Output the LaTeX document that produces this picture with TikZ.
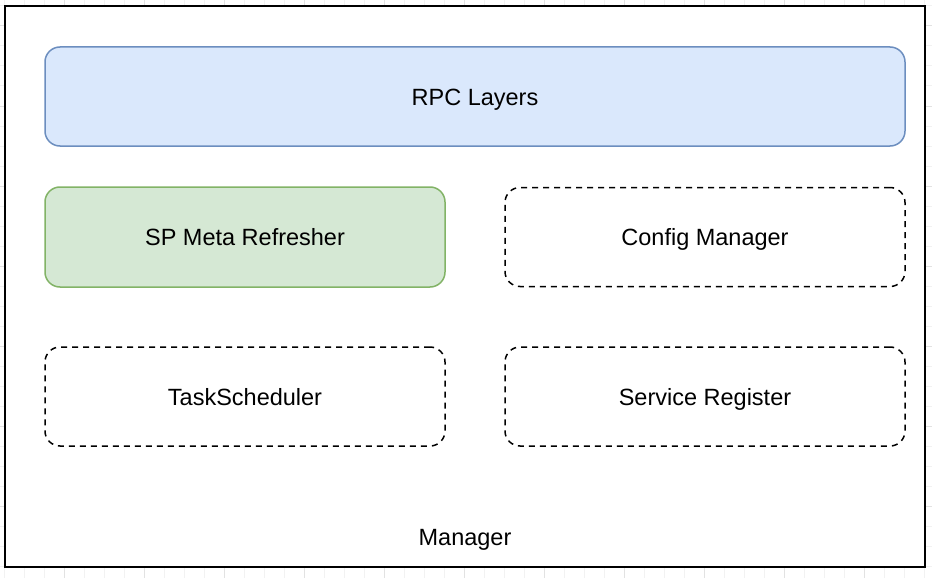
\documentclass[tikz,border=0pt]{standalone}
\usepackage{fontspec}
\setmainfont{Liberation Sans}
\definecolor{rpcfill}{HTML}{DAE8FC}
\definecolor{rpcline}{HTML}{6C8EBF}
\definecolor{spfill}{HTML}{D5E8D4}
\definecolor{spline}{HTML}{82B366}
\definecolor{gridminor}{HTML}{F2F2F2}
\definecolor{gridmajor}{HTML}{E2E2E2}

\tikzstyle{label}=[font=\fontsize{23.5}{27}\selectfont,text height=22pt,text depth=5pt]
\tikzstyle{layer}=[label,draw=rpcline,fill=rpcfill,rounded corners=15pt,line width=1.5pt,minimum width=860pt,minimum height=99pt]
\tikzstyle{refresher}=[label,draw=spline,fill=spfill,rounded corners=15pt,line width=1.5pt,minimum width=400pt,minimum height=100pt]
\tikzstyle{module}=[label,draw,dash pattern=on 6pt off 5pt,rounded corners=15pt,line width=1.5pt,minimum width=400pt,minimum height=99pt]

\begin{document}
\begin{tikzpicture}[x=1pt,y=1pt]
  \useasboundingbox (0,0) rectangle (932,-578);
  % background grid
  \foreach \x in {4,24,...,924}{
    \draw[gridminor,line width=1pt] (\x,0) -- (\x,-578);
  }
  \foreach \y in {6,26,...,566}{
    \draw[gridminor,line width=1pt] (0,-\y) -- (932,-\y);
  }
  \foreach \x in {64,144,...,904}{
    \draw[gridmajor,line width=1pt] (\x,0) -- (\x,-578);
  }
  \foreach \y in {26,106,...,506}{
    \draw[gridmajor,line width=1pt] (0,-\y) -- (932,-\y);
  }

  \node (mgr)[draw,fill=white,line width=2pt,minimum width=920pt,minimum height=560pt,inner sep=0pt] at (465,-286.5) {};
  \node (rpc)[layer] at (475,-96.5) {RPC Layers};
  \node (sp)[refresher] at (245,-237) {SP Meta Refresher};
  \node (cfg)[module] at (705,-237) {Config Manager};
  \node (task)[module] at (245,-396.5) {TaskScheduler};
  \node (reg)[module] at (705,-396.5) {Service Register};
  \node (mgrlabel)[label] at (465,-537) {Manager};
\end{tikzpicture}
\end{document}
